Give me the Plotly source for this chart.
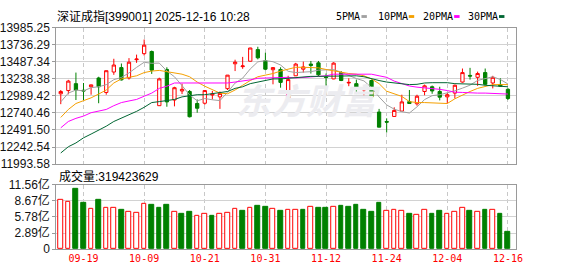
import plotly.graph_objects as go

# ---------------- data ----------------
dates = ["09-16", "09-17", "09-18", "09-19", "09-22", "09-23", "09-24", "09-25", "09-26", "09-29",
         "09-30", "10-09", "10-10", "10-13", "10-14", "10-15", "10-16", "10-17", "10-20", "10-21",
         "10-22", "10-23", "10-24", "10-27", "10-28", "10-29", "10-30", "10-31", "11-03", "11-04",
         "11-05", "11-06", "11-07", "11-10", "11-11", "11-12", "11-13", "11-14", "11-17", "11-18",
         "11-19", "11-20", "11-21", "11-24", "11-25", "11-26", "11-27", "11-28", "12-01", "12-02",
         "12-03", "12-04", "12-05", "12-08", "12-09", "12-10", "12-11", "12-12", "12-15", "12-16"]

open_ = [13021.2, 13068.2, 13169.2, 13072.4, 13123.6, 13252.2, 13040.6, 13339.3, 13404.3, 13252.2,
         13519.2, 13607.7, 13639.5, 12847.0, 13376.7, 12929.9, 13062.7, 13054.4, 12878.8, 12882.9,
         13003.2, 12975.6, 13095.9, 13459.7, 13418.2, 13497.0, 13667.1, 13505.3, 13372.5, 13376.7,
         12957.6, 13284.0, 13380.8, 13455.5, 13473.5, 13266.0, 13238.4, 13331.1, 13178.9, 13169.2,
         13076.5, 13214.9, 12754.3, 12616.0, 12689.3, 12768.1, 12906.4, 12874.7, 13054.4, 13123.6,
         13054.4, 12975.6, 13030.9, 13192.7, 13289.6, 13261.9, 13331.1, 13178.9, 13155.4, 13086.2]

high = [13076.5, 13224.5, 13331.1, 13178.9, 13155.4, 13270.2, 13360.0, 13533.0, 13463.8, 13542.7,
        13593.8, 13815.2, 13653.3, 13256.4, 13408.5, 13123.6, 13169.2, 13076.5, 12938.2, 13076.5,
        13062.7, 13054.4, 13296.0, 13519.2, 13560.6, 13694.0, 13708.6, 13621.5, 13407.0, 13408.5,
        13284.0, 13473.5, 13491.5, 13501.2, 13501.2, 13317.2, 13483.2, 13353.2, 13248.0, 13228.7,
        13145.7, 13228.7, 12800.0, 12661.6, 12823.4, 13007.4, 13076.5, 13007.4, 13155.4, 13141.6,
        13123.6, 13030.9, 13155.4, 13390.5, 13400.2, 13344.9, 13390.5, 13284.0, 13248.0, 13104.2]

low = [12869.1, 13012.9, 12929.9, 12929.9, 13007.4, 12882.9, 13007.4, 13298.0, 13214.9, 13228.7,
       13473.5, 13580.0, 13311.7, 12845.0, 12831.4, 12837.3, 13017.1, 12675.4, 12744.6, 12860.8,
       12938.2, 12799.9, 13076.5, 13353.2, 13386.4, 13494.0, 13524.7, 13367.0, 13159.5, 13109.8,
       12955.0, 13281.0, 13331.1, 13317.2, 13275.7, 13123.6, 13234.2, 13206.6, 13132.0, 13017.1,
       12999.1, 12972.0, 12530.0, 12454.3, 12686.0, 12765.0, 12875.0, 12847.0, 12999.1, 13021.2,
       12924.4, 12878.8, 12952.1, 13183.1, 13228.7, 13137.4, 13145.7, 13100.1, 13123.6, 12929.9]

close = [13054.4, 13206.6, 13076.5, 13062.7, 13151.2, 13123.6, 13358.7, 13441.7, 13224.5, 13483.2,
         13528.8, 13732.2, 13367.0, 13238.4, 12902.3, 13109.8, 13086.2, 12685.1, 12809.6, 13068.2,
         13017.1, 13026.7, 13293.7, 13483.2, 13427.9, 13690.6, 13546.8, 13380.8, 13404.3, 13187.2,
         13228.7, 13455.5, 13414.1, 13436.2, 13298.0, 13259.1, 13469.4, 13214.9, 13187.2, 13090.4,
         13086.2, 12975.6, 12533.0, 12606.3, 12777.8, 12902.3, 12878.8, 12985.3, 13137.4, 13062.7,
         12971.4, 13007.4, 13145.7, 13331.1, 13279.9, 13317.2, 13159.5, 13261.9, 13132.0, 12952.1]

ma5 = [12902.3, 13030.9, 13076.5, 13062.7, 13110.3, 13124.1, 13154.5, 13227.6, 13259.9, 13326.3,
       13407.4, 13482.1, 13467.1, 13469.9, 13353.7, 13269.9, 13140.7, 13004.4, 12918.6, 12951.8,
       12933.2, 12921.3, 13043.1, 13177.8, 13249.7, 13384.4, 13488.4, 13505.9, 13490.1, 13441.9,
       13349.6, 13331.3, 13338.0, 13344.3, 13366.5, 13372.6, 13375.4, 13335.5, 13285.7, 13244.2,
       13209.6, 13110.9, 12974.5, 12858.3, 12795.8, 12759.0, 12739.6, 12830.1, 12936.3, 12993.3,
       13007.1, 13032.8, 13064.9, 13103.7, 13147.1, 13216.3, 13246.7, 13269.9, 13230.1, 13164.5]

ma10 = [12675.4, 12791.6, 12878.8, 12916.1, 12961.8, 13017.1, 13076.5, 13178.9, 13238.4, 13261.9,
        13284.0, 13331.1, 13353.2, 13362.9, 13344.9, 13331.1, 13307.5, 13270.2, 13192.7, 13132.0,
        13076.5, 13030.9, 13021.2, 13076.5, 13145.7, 13214.9, 13270.2, 13293.7, 13317.2, 13353.2,
        13376.7, 13408.5, 13408.5, 13408.5, 13400.2, 13376.7, 13353.2, 13331.1, 13317.2, 13307.5,
        13284.0, 13238.4, 13169.2, 13058.6, 13023.9, 12982.5, 12906.4, 12892.6, 12892.6, 12888.5,
        12882.9, 12878.8, 12947.9, 13007.4, 13054.4, 13100.1, 13132.0, 13155.4, 13155.4, 13155.4]

ma20 = [12523.3, 12616.0, 12661.6, 12694.8, 12744.6, 12763.9, 12791.6, 12847.0, 12892.6, 12916.1,
        12938.2, 12985.3, 13030.9, 13100.1, 13132.0, 13178.9, 13178.9, 13178.9, 13178.9, 13178.9,
        13178.9, 13178.9, 13178.9, 13192.7, 13206.6, 13224.5, 13248.0, 13252.2, 13261.9, 13261.9,
        13261.9, 13252.2, 13261.9, 13261.9, 13270.2, 13284.0, 13307.5, 13307.5, 13307.5, 13307.5,
        13307.5, 13307.5, 13284.0, 13261.9, 13206.6, 13169.2, 13134.7, 13118.1, 13109.8, 13095.9,
        13086.2, 13068.2, 13044.7, 13040.6, 13030.9, 13030.9, 13030.9, 13026.7, 13026.7, 13017.1]

ma30 = [12155.4, 12246.7, 12302.0, 12376.7, 12432.0, 12487.3, 12546.8, 12616.0, 12661.6, 12708.6,
        12763.9, 12823.4, 12892.6, 12906.4, 12924.4, 12938.2, 12975.6, 12993.6, 13007.4, 13007.4,
        13021.2, 13030.9, 13054.4, 13100.1, 13123.6, 13169.2, 13192.7, 13224.5, 13238.4, 13238.4,
        13248.0, 13261.9, 13270.2, 13275.7, 13275.7, 13275.7, 13284.0, 13284.0, 13284.0, 13284.0,
        13270.2, 13238.4, 13214.9, 13192.7, 13178.9, 13169.2, 13155.4, 13159.5, 13178.9, 13183.1,
        13183.1, 13183.1, 13169.2, 13169.2, 13169.2, 13159.5, 13145.7, 13137.4, 13127.7, 13123.6]

# volume in 亿 (1e8)
volume = [8.91, 8.57, 10.83, 8.29, 7.22, 8.80, 7.39, 7.39, 7.05, 6.71,
          6.54, 8.12, 7.95, 7.44, 7.95, 6.71, 6.43, 6.77, 5.92, 6.37,
          5.92, 6.26, 6.54, 7.22, 6.94, 7.39, 7.78, 7.61, 7.22, 6.94,
          7.05, 7.05, 7.05, 7.56, 7.44, 7.44, 7.56, 7.78, 7.61, 7.95,
          7.05, 6.71, 8.29, 6.88, 7.05, 6.88, 6.43, 6.20, 7.05, 6.43,
          6.94, 6.43, 6.71, 7.39, 6.94, 6.71, 7.05, 7.05, 6.26, 3.19]

price_ticks = [11993.58, 12242.54, 12491.50, 12740.46, 12989.42, 13238.38, 13487.34, 13736.29, 13985.25]
vol_ticks = [0, 2.89, 5.78, 8.67, 11.56]
vol_tick_text = ["0", "2.89亿", "5.78亿", "8.67亿", "11.56亿"]
x_labels = ["09-19", "10-09", "10-21", "10-31", "11-12", "11-24", "12-04", "12-16"]

title_text = "深证成指[399001] 2025-12-16 10:28"
vol_title = "成交量:319423629"
ma_names = ["5PMA", "10PMA", "20PMA", "30PMA"]

# ---------------- style ----------------
W, H = 578, 276
RED = "#ff0000"
GREEN = "#008000"
MA_COLORS = ["#a0a0a0", "#f5a000", "#ff00ff", "#006633"]
GRID = "#d2d2d2"
FRAME = "#9a9a9a"
LABEL_FONT = "Liberation Sans, Noto Sans CJK SC, sans-serif"


def fx(p):
    return p / W


def fy(p):
    return 1 - p / H


x_dom = [fx(56), fx(522.5)]
x_range = [-0.6, 60.1]

fig = go.Figure()

fig.add_trace(go.Candlestick(
    x=dates, open=open_, high=high, low=low, close=close,
    increasing=dict(line=dict(color=RED, width=1), fillcolor="white"),
    decreasing=dict(line=dict(color=GREEN, width=1), fillcolor=GREEN),
    whiskerwidth=0, xaxis="x", yaxis="y", showlegend=False, hoverinfo="skip",
))

for vals, col in zip([ma5, ma10, ma20, ma30], MA_COLORS):
    fig.add_trace(go.Scatter(x=dates, y=vals, mode="lines", line=dict(color=col, width=1),
                             xaxis="x", yaxis="y", showlegend=False, hoverinfo="skip"))

vol_up = [True] + [close[i] >= close[i - 1] for i in range(1, len(close))]
fig.add_trace(go.Bar(
    x=dates, y=volume, width=0.62,
    marker=dict(color=["white" if u else GREEN for u in vol_up],
                line=dict(color=[RED if u else GREEN for u in vol_up], width=1)),
    xaxis="x2", yaxis="y2", showlegend=False, hoverinfo="skip",
))

common_x = dict(
    domain=x_dom, type="category", range=x_range, tickvals=x_labels,
    showgrid=True, gridcolor="#c8c8c8", griddash="4px,3px", gridwidth=1,
    showline=True, mirror=True, linecolor=FRAME, linewidth=1,
    zeroline=False, fixedrange=True, ticks="",
)

fig.update_layout(
    width=W, height=H, margin=dict(l=0, r=0, t=0, b=0),
    paper_bgcolor="white", plot_bgcolor="white",
    showlegend=False, boxgap=0.38, bargap=0,
    xaxis=dict(anchor="y", showticklabels=False, rangeslider=dict(visible=False), **common_x),
    xaxis2=dict(anchor="y2", showticklabels=True, ticktext=x_labels,
                tickfont=dict(family="DejaVu Sans Mono, monospace", size=10, color=RED),
                **common_x),
    yaxis=dict(domain=[fy(165), fy(21)], range=[price_ticks[0], price_ticks[-1]],
               tickvals=price_ticks, ticktext=[f"{v:.2f}" for v in price_ticks],
               showgrid=True, gridcolor=GRID, gridwidth=1,
               showline=True, mirror=True, linecolor=FRAME, linewidth=1,
               ticks="outside", ticklen=3, tickcolor=FRAME, zeroline=False,
               tickfont=dict(family=LABEL_FONT, size=12, color="#111"), fixedrange=True),
    yaxis2=dict(domain=[fy(255), fy(187)], range=[0, vol_ticks[-1]],
                tickvals=vol_ticks, ticktext=vol_tick_text,
                showgrid=True, gridcolor=GRID, gridwidth=1,
                showline=True, mirror=True, linecolor=FRAME, linewidth=1,
                ticks="outside", ticklen=3, tickcolor=FRAME, zeroline=False,
                tickfont=dict(family=LABEL_FONT, size=12, color="#111"), fixedrange=True),
)

annotations = [
    dict(text=title_text, x=fx(55), y=fy(9.5), xref="paper", yref="paper",
         xanchor="left", yanchor="middle", showarrow=False,
         font=dict(family=LABEL_FONT, size=12, color="#000")),
    dict(text=vol_title, x=fx(57), y=fy(178), xref="paper", yref="paper",
         xanchor="left", yanchor="middle", showarrow=False,
         font=dict(family=LABEL_FONT, size=12, color="#000")),
    dict(text="东方财富", x=fx(312), y=fy(96), xref="paper", yref="paper",
         xanchor="center", yanchor="middle", showarrow=False,
         font=dict(family="Noto Sans CJK SC", size=35, color="#ececf0", weight="bold", style="italic")),
]

legend_text_x = [338, 380, 425.5, 472]
legend_swatch_x = [365.5, 413.5, 459.5, 505]
shapes = []
for name, col, tx, sx in zip(ma_names, MA_COLORS, legend_text_x, legend_swatch_x):
    annotations.append(dict(text=name, x=fx(tx), y=fy(9.5), xref="paper", yref="paper",
                            xanchor="left", yanchor="middle", showarrow=False,
                            font=dict(family="DejaVu Sans Mono, monospace", size=10, color="#000")))
    shapes.append(dict(type="rect", xref="paper", yref="paper",
                       x0=fx(sx), x1=fx(sx + 5.5), y0=fy(10.5), y1=fy(7.5),
                       fillcolor=col, line=dict(width=0)))

fig.update_layout(annotations=annotations, shapes=shapes)

fig.write_html("out.html", config={"displayModeBar": False})
